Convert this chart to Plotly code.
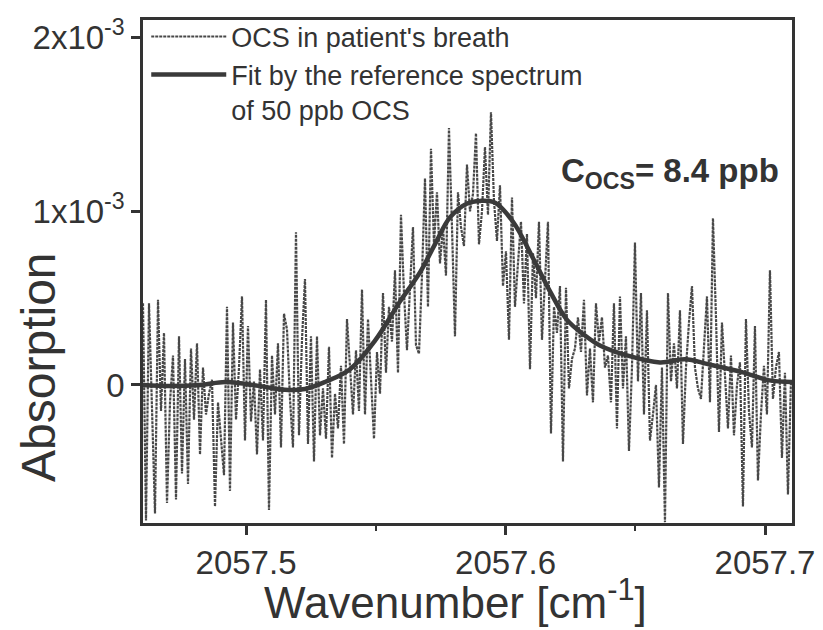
import numpy as np
import plotly.graph_objects as go

# ---- data ----
# measured absorption of OCS in patient's breath (units of 1e-4), evenly sampled
wn_start = 2057.4603
wn_end = 2057.7100
absorption_e4 = [
    4.7, -7.8, 4.7, -2.0, -7.4, 4.9, -1.5, 3.0, -6.8, -1.0,
    1.7, -6.6, 2.8, -5.1, 1.5, -5.7, 2.1, -2.0, 2.4, -4.0,
    1.0, -1.7, -0.5, 0.3, -7.0, -1.0, -3.2, -5.2, 4.5, -6.1,
    3.6, -2.0, 1.0, 5.1, -3.2, 3.4, -2.1, 0.2, -4.0, 0.9,
    -3.2, 4.9, -7.2, 1.7, -1.7, 2.4, -3.6, 4.1, 3.2, -0.8,
    -3.6, 8.8, -2.9, 2.6, 6.1, -3.4, 2.8, -4.4, 2.8, -2.9,
    -0.2, -3.1, 2.2, -4.2, -0.5, -2.5, 1.1, -3.4, 3.8, 0.9,
    -1.7, 2.0, -1.5, 5.5, -1.7, 3.8, 0.5, -3.1, 1.9, -0.5,
    5.3, 0.7, 4.5, 2.5, 6.6, 0.7, 9.8, 5.3, 2.0, 6.0,
    9.1, 2.3, 1.8, 6.3, 11.9, 4.5, 13.6, 8.1, 11.1, 7.0,
    9.1, 6.3, 14.8, 9.1, 2.8, 11.1, 9.1, 8.0, 12.7, 10.0,
    11.0, 14.5, 8.1, 10.0, 13.7, 9.8, 15.7, 10.6, 8.3, 11.5,
    5.7, 7.7, 2.6, 10.8, 4.5, 7.0, 9.4, 4.7, 8.7, 0.9,
    7.6, 5.0, 9.4, 2.6, 6.0, 9.4, -2.8, 4.5, 3.0, 5.7,
    -4.4, 5.6, -0.2, 1.5, 2.1, 3.9, 1.9, 4.9, -0.6, 2.1,
    -1.0, 4.7, 2.5, 3.9, 1.0, 1.7, -1.0, 4.7, -2.5, 5.1,
    -0.2, 2.8, -3.8, 1.0, 8.2, 0.2, 5.3, -1.7, 4.3, -3.2,
    -1.7, 0.0, -5.9, 1.0, -7.9, 5.3, 0.2, 2.4, -0.2, 4.3,
    -3.4, 1.0, 3.6, 5.7, 1.0, -0.2, -0.8, 2.0, 5.1, -1.0,
    9.6, 3.9, -2.7, 3.6, 0.5, -2.5, 1.7, -2.9, 0.0, 1.3,
    -7.0, 3.8, -1.5, -3.6, 3.4, -5.5, -1.7, 1.1, -1.7, 6.6,
    -0.8, 1.0, 1.9, -4.2, 0.7, -6.3, 0.2,
]

# fit by the reference spectrum of 50 ppb OCS (units of 1e-4)
fit_wn = [
    2057.4603, 2057.4707, 2057.4823, 2057.4919, 2057.4996, 2057.5073,
    2057.5150, 2057.5227, 2057.5304, 2057.5401, 2057.5497, 2057.5593,
    2057.5671, 2057.5728, 2057.5786, 2057.5852, 2057.5902, 2057.5960,
    2057.6029, 2057.6106, 2057.6171, 2057.6237, 2057.6306, 2057.6364,
    2057.6468, 2057.6595, 2057.6692, 2057.6780, 2057.6911, 2057.7012,
    2057.7104,
]
fit_e4 = [
    0.0, -0.06, 0.0, 0.17, 0.06, -0.11,
    -0.28, -0.23, 0.17, 0.91, 2.55, 4.8,
    6.5, 8.1, 9.65, 10.45, 10.6, 10.5,
    9.4, 7.3, 5.4, 3.75, 2.85, 2.27,
    1.7, 1.3, 1.48, 1.2, 0.74, 0.28,
    0.17,
]

x_tickvals = [2057.5, 2057.6, 2057.7]
x_ticktext = ["2057.5", "2057.6", "2057.7"]
y_tickvals = [0, 1e-3, 2e-3]
y_ticktext = ["0", "1x10<sup>-3</sup>", "2x10<sup>-3</sup>"]

# ---- figure ----
wn = np.linspace(wn_start, wn_end, len(absorption_e4))
absorption = np.array(absorption_e4) * 1e-4
fit = np.array(fit_e4) * 1e-4

FONT = "Liberation Sans, Arial, sans-serif"
INK = "#333333"

fig = go.Figure()
fig.add_trace(go.Scatter(
    x=wn, y=absorption, mode="lines",
    name="OCS in patient's breath",
    line=dict(color="#484848", width=2.2, dash="3px,1px"),
))
fig.add_trace(go.Scatter(
    x=fit_wn, y=fit, mode="lines", line_shape="spline",
    name="Fit by the reference spectrum<br>of 50 ppb OCS",
    line=dict(color="#3a3a3a", width=4.5),
))

fig.add_annotation(
    xref="x domain", yref="y", x=0.983, y=1.22e-3,
    xanchor="right", yanchor="middle", showarrow=False,
    text="<b>C<sub>OCS</sub>= 8.4 ppb</b>",
    font=dict(family=FONT, size=33, color=INK),
)
# axis titles placed as in the reference
fig.add_annotation(
    xref="paper", yref="paper", x=-0.162, y=0.31,
    xanchor="center", yanchor="middle", showarrow=False, textangle=-90,
    text="Absorption", font=dict(family=FONT, size=48, color=INK),
)
fig.add_annotation(
    xref="paper", yref="paper", x=0.482, y=-0.153,
    xanchor="center", yanchor="middle", showarrow=False,
    text="Wavenumber [cm<sup>-1</sup>]", font=dict(family=FONT, size=44, color=INK),
)

fig.update_layout(
    width=823, height=630,
    margin=dict(l=143, r=31, t=13, b=107),
    paper_bgcolor="white", plot_bgcolor="white",
    font=dict(family=FONT, color=INK),
    showlegend=True,
    legend=dict(
        x=0.005, y=1.015, xanchor="left", yanchor="top",
        bgcolor="rgba(0,0,0,0)", font=dict(size=27, color=INK),
        valign="top", tracegroupgap=0, itemwidth=75,
    ),
)
fig.update_xaxes(
    range=[2057.4603, 2057.7104],
    tickvals=x_tickvals, ticktext=x_ticktext,
    ticks="outside", ticklen=9, tickwidth=2.5, tickcolor=INK,
    minor=dict(ticks="outside", dtick=0.05, tick0=2057.5, ticklen=5, tickwidth=2, tickcolor=INK),
    showline=True, linewidth=2.5, linecolor=INK, mirror=True,
    showgrid=False, zeroline=False,
    tickfont=dict(size=33, color=INK),
    automargin=False,
)
fig.update_yaxes(
    range=[-0.795e-3, 2.102e-3],
    tickvals=y_tickvals, ticktext=y_ticktext,
    ticks="outside", ticklen=9, tickwidth=2.5, tickcolor=INK,
    showline=True, linewidth=2.5, linecolor=INK, mirror=True,
    showgrid=False, zeroline=False,
    tickfont=dict(size=33, color=INK),
    automargin=False,
)

fig.write_html("out.html")
